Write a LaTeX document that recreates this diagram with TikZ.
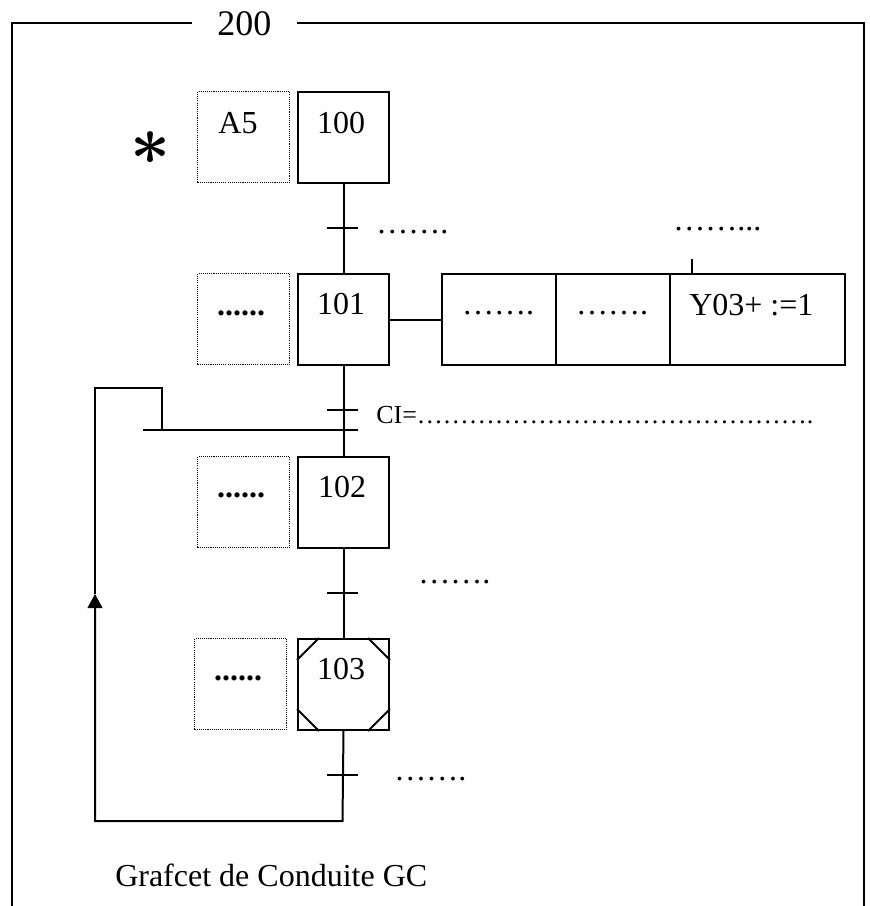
\documentclass[tikz,border=0pt]{standalone}
\usepackage{fontspec}
\setmainfont{Liberation Serif}
\usetikzlibrary{arrows.meta,calc}
\newcommand\myell{…}
\newcommand\myellv{\myell\myell\myell\myell\myell}
\newcommand\bigast{\mbox{\fontsize{24}{24}\selectfont\boldmath$\ast$}}
\begin{document}
\begin{tikzpicture}[x=0.75pt,y=-0.75pt,
  conn/.style={line width=1.5pt},
  stepbox/.style={draw,line width=1.5pt,minimum width=68.25pt,minimum height=68.25pt,inner sep=0pt,anchor=north west},
  actbox/.style={draw,line width=1.5pt,minimum height=68.25pt,inner sep=0pt,anchor=north west},
  dotbox/.style={draw,line width=1pt,dash pattern=on 0.8pt off 0.8pt,minimum width=69pt,minimum height=68.25pt,inner sep=0pt,anchor=north west},
  txt/.style={inner sep=0pt,anchor=base,font=\fontsize{24}{25}\selectfont},
  txtw/.style={txt,anchor=base west}]
\useasboundingbox (0,0) rectangle (870,906);
% frame
\coordinate (f1) at (12,906); \coordinate (f2) at (12,23); \coordinate (f3) at (192,23);
\coordinate (f4) at (297,23); \coordinate (f5) at (864,23); \coordinate (f6) at (864,906);
\draw[conn] (f1) -- (f2) -- (f3);
\draw[conn] (f4) -- (f5) -- (f6);
\node[txtw,font=\fontsize{27}{28}\selectfont] (title) at (217,36) {200};
% steps
\node[stepbox] (s100) at (297,91) {};
\node[stepbox] (s101) at (297,273) {};
\node[stepbox] (s102) at (297,456) {};
\node[stepbox] (s103) at (297,638) {};
\node[txt] (l100) at (341,133) {100};
\node[txt] (l101) at (341,314) {101};
\node[txt] (l102) at (342,497) {102};
\node[txt] (l103) at (341,679) {103};
% corners of 103
\draw[conn] ($(s103.north west)+(0,22)$) -- ($(s103.north west)+(22,0)$);
\draw[conn] ($(s103.north east)+(0,22)$) -- ($(s103.north east)+(-22,0)$);
\draw[conn] ($(s103.south west)+(0,-22)$) -- ($(s103.south west)+(22,0)$);
\draw[conn] ($(s103.south east)+(0,-22)$) -- ($(s103.south east)+(-22,0)$);
% dotted boxes
\node[dotbox] (d100) at (197,91) {};
\node[dotbox] (d101) at (197,273) {};
\node[dotbox] (d102) at (197,456) {};
\node[dotbox] (d103) at (194,638) {};
\node[txt] (la5) at (238,133) {A5};
\node[txt] (ld101) at (241,315) {\textbf{......}};
\node[txt] (ld102) at (241,497) {\textbf{......}};
\node[txt] (ld103) at (238,680) {\textbf{......}};
% asterisk
\node[inner sep=0pt,scale=2.1] (star) at (151,148) {\bigast};
% main links
\draw[conn] (s100.south) -- (s101.north);
\draw[conn] (s101.south) -- (s102.north);
\draw[conn] (s102.south) -- (s103.north);
% transitions
\coordinate (t1) at (342.5,228);
\coordinate (t2) at (342.5,410);
\coordinate (t3) at (342.5,593);
\coordinate (t4) at (342.5,775);
\foreach \t in {t1,t2,t3,t4}{\draw[conn] ($(\t)+(-15.5,0)$) -- ($(\t)+(15.5,0)$);}
\node[txtw] (lt1) at (376,233) {\myell\myell.};
\node[txtw,font=\fontsize{19.5}{20}\selectfont] (lt2) at (376,423) {CI=\myellv\myellv\myellv.};
\node[txtw] (lt3) at (418,583) {\myell\myell.};
\node[txtw] (lt4) at (394,780) {\myell\myell.};
% actions
\node[actbox,minimum width=85.5pt] (a1) at (441,273) {};
\node[actbox,minimum width=85.5pt] (a2) at (555,273) {};
\node[actbox,minimum width=131.25pt] (a3) at (669,273) {};
\draw[conn] (s101.east) -- (a1.west);
\coordinate (a3t) at (692,259);
\draw[conn] (a3t) -- (a3t |- a3.north);
\node[txt] (la1) at (498,314) {\myell\myell.};
\node[txt] (la2) at (612,314) {\myell\myell.};
\node[txtw] (la3) at (689,315) {Y03+ :=1};
\node[txtw] (lq) at (673,230) {\myell\myell...};
% loop back
\coordinate (b1) at (342.5,821);
\coordinate (b2) at (95,821);
\coordinate (ar) at (95,594);
\coordinate (c1) at (95,388);
\coordinate (c2) at (162,388);
\coordinate (c3) at (162,430);
\coordinate (j1) at (143,430);
\coordinate (j2) at (358,430);
\draw[conn,-{Triangle[width=11pt,length=10.5pt]}] (s103.south) -- (b1) -- (b2) -- (ar);
\draw[conn] (ar) -- (c1) -- (c2) -- (c3);
\draw[conn] (j1) -- (j2);
% caption
\node[txtw] (cap) at (115,886) {Grafcet de Conduite GC};
\end{tikzpicture}
\end{document}
